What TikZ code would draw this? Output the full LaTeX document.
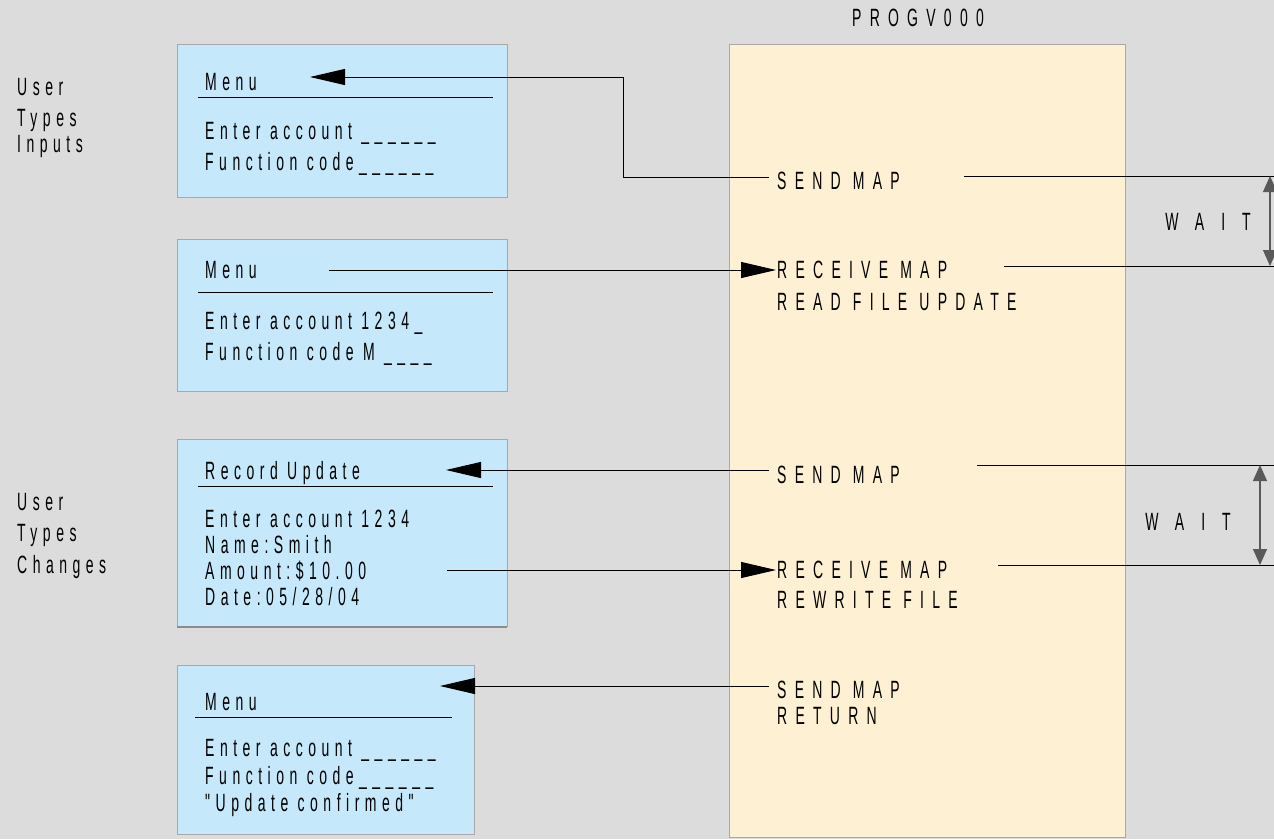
\documentclass[tikz,border=0pt]{standalone}
\usepackage{fontspec}
\setmainfont{Liberation Sans}
\newfontfamily\scrfont[FakeStretch=0.56,LetterSpace=22]{Liberation Sans}
\newfontfamily\pgmfont[FakeStretch=0.56,LetterSpace=33]{Liberation Sans}
\newfontfamily\waitfont[FakeStretch=0.56,LetterSpace=68]{Liberation Sans}
\usetikzlibrary{arrows.meta}
\definecolor{bggray}{HTML}{DCDCDC}
\definecolor{screenblue}{HTML}{C5E8FB}
\definecolor{pgmcream}{HTML}{FEF0D3}
\definecolor{edgegray}{HTML}{A8A8A8}
\tikzset{
  screen/.style={fill=screenblue, draw=edgegray, line width=1pt},
  lbl/.style={anchor=west, inner sep=0pt, text height=17pt, text depth=0pt,
    font=\scrfont\fontsize{25}{29}\selectfont},
  pgm/.style={lbl, font=\pgmfont\fontsize{25}{29}\selectfont},
  waitlbl/.style={lbl, anchor=center, font=\waitfont\fontsize{25}{29}\selectfont},
  plain/.style={line width=1pt},
  conn/.style={plain, -{Triangle[length=35pt,width=16pt]}},
  waitarr/.style={line width=1.2pt, black!65,
    {Triangle[length=16pt,width=14pt]}-{Triangle[length=16pt,width=14pt]}},
}

\begin{document}
\begin{tikzpicture}[x=1pt,y=-1pt]
	\useasboundingbox (0,0) rectangle (1274,839);
	\fill[bggray] (0,0) rectangle (1274,839);

	% program column
	\filldraw[fill=pgmcream, draw=edgegray, line width=1pt] (729,44) rectangle (1125,837);
	\node[pgm, anchor=center] (title) at (918,18) {PROGV000};

	% screens
	\filldraw[screen] (177,44) rectangle (507,197);
	\filldraw[screen] (177,239) rectangle (507,391);
	\filldraw[screen] (177,439) rectangle (507,626);
	\draw[black!45, line width=2.5pt] (177,627) -- (507,627);
	\filldraw[screen] (177,665) rectangle (474,834);
	\foreach \y in {97, 292, 486}
		\draw[plain] (198,\y) -- (493,\y);
	\draw[plain] (195,717) -- (452,717);

	% left labels
	\node[lbl] (user1) at (17,87) {User};
	\node[lbl] (types1) at (17,118) {Types};
	\node[lbl] (inputs) at (17,144) {Inputs};
	\node[lbl] (user2) at (17,502) {User};
	\node[lbl] (types2) at (17,533) {Types};
	\node[lbl] (changes) at (17,565) {Changes};

	% screen texts
	\node[lbl] (menu1) at (205,82) {Menu};
	\node[lbl] (acct1) at (205,131) {Enter account \_\_\_\_\_\_};
	\node[lbl] (func1) at (205,162) {Function code\_\_\_\_\_\_};

	\node[lbl] (menu2) at (205,270) {Menu};
	\node[lbl] (acct2) at (205,321) {Enter account 1234\_};
	\node[lbl] (func2) at (205,352) {Function code M \_\_\_\_};

	\node[lbl] (recupd) at (205,471) {Record Update};
	\node[lbl] (acct3) at (205,519) {Enter account 1234};
	\node[lbl] (name) at (205,545) {Name:Smith};
	\node[lbl] (amount) at (205,571) {Amount:\$10.00};
	\node[lbl] (date) at (205,597) {Date:05/28/04};

	\node[lbl] (menu4) at (205,702) {Menu};
	\node[lbl] (acct4) at (205,748) {Enter account \_\_\_\_\_\_};
	\node[lbl] (func4) at (205,776) {Function code\_\_\_\_\_\_};
	\node[lbl] (confirm) at (205,803) {"Update confirmed"};

	% program steps
	\node[pgm] (send1) at (777,181) {SEND MAP};
	\node[pgm] (recv1) at (777,270) {RECEIVE MAP};
	\node[pgm] (readf) at (777,302) {READ FILE UPDATE};
	\node[pgm] (send2) at (777,475) {SEND MAP};
	\node[pgm] (recv2) at (777,570) {RECEIVE MAP};
	\node[pgm] (rewrite) at (777,600) {REWRITE FILE};
	\node[pgm] (send3) at (777,690) {SEND MAP};
	\node[pgm] (ret) at (777,716) {RETURN};

	\node[waitlbl] (wait1) at (1208,222) {WAIT};
	\node[waitlbl] (wait2) at (1188,522) {WAIT};

	% connectors
	\coordinate (bend1) at (623,77);
	\coordinate (tip1) at (310,77);
	\coordinate (tip3) at (446,470);
	\coordinate (start4) at (447,570);
	\coordinate (tip5) at (440,686);
	\draw[conn] ([xshift=-8pt,yshift=4pt]send1.west) -| (bend1) -- (tip1);
	\draw[conn] ([xshift=72pt]menu2.east) -- ([xshift=-1pt]recv1.west);
	\draw[conn] ([xshift=-8pt,yshift=5pt]send2.west) -- (tip3);
	\draw[conn] (start4) -- ([xshift=-1pt]recv2.west);
	\draw[conn] ([xshift=-8pt,yshift=4pt]send3.west) -- (tip5);

	% wait spans
	\coordinate (w1a) at (1274,176);
	\coordinate (w1b) at (1274,266);
	\coordinate (w2a) at (1274,465);
	\coordinate (w2b) at (1274,565);
	\draw[plain] (964,176) -- (w1a);
	\draw[plain] (1004,266) -- (w1b);
	\draw[plain] (977,465) -- (w2a);
	\draw[plain] (998,565) -- (w2b);
	\draw[waitarr] (1270,176) -- (1270,266);
	\draw[waitarr] (1260,465) -- (1260,565);
\end{tikzpicture}
\end{document}
